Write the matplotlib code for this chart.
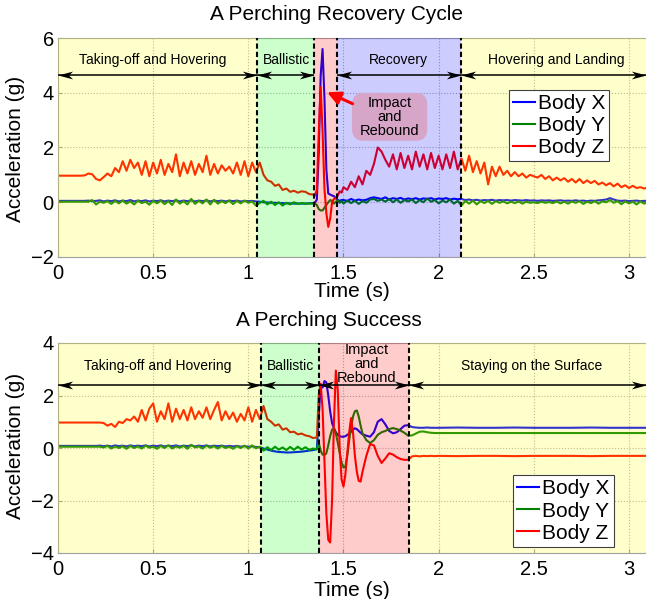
import numpy as np
import matplotlib
matplotlib.use("Agg")
import matplotlib.pyplot as plt
from matplotlib.path import Path
from matplotlib.patches import FancyBboxPatch, FancyArrowPatch

plt.rcParams['font.family'] = ['Liberation Sans', 'DejaVu Sans']

# ------------------------------------------------------------------ data
series_labels = ['Body X', 'Body Y', 'Body Z']
series_colors = ['#0000FF', '#008000', '#FF0000']
xtick_vals = [0, 0.5, 1, 1.5, 2, 2.5, 3]
xtick_labels = ['0', '0.5', '1', '1.5', '2', '2.5', '3']

# ---- top panel: A Perching Recovery Cycle (segments: start, step)
top_seg_start = [0.00, 1.34, 1.50]
top_seg_step = [0.02, 0.01, 0.02]

top_x_a = [0.05, 0.05, 0.05, 0.05, 0.05, 0.05, 0.05, 0.05, 0.06, 0.04,
           0.05, 0.07, 0.03, 0.06, 0.04, 0.07, 0.03, 0.06, 0.04, 0.08,
           0.03, 0.06, 0.04, 0.07, 0.03, 0.06, 0.04, 0.07, 0.03, 0.06,
           0.04, 0.07, 0.03, 0.06, 0.04, 0.07, 0.03, 0.06, 0.04, 0.07,
           0.03, 0.06, 0.04, 0.06, 0.03, 0.06, 0.04, 0.06, 0.03, 0.05,
           0.04, 0.05, 0.03, 0.02, 0.00, -0.01, -0.02, -0.02, -0.03, -0.03,
           -0.04, -0.04, -0.05, -0.05, -0.05, -0.05, -0.04]
top_x_b = [-0.03, -0.02, 0.1, 1.8, 4.6, 5.6, 3.8, 1.2, 0.32, 0.28, 0.25, 0.22, 0.15, 0.08, 0.05, 0.08]
top_x_c = [0.08, 0.05, 0.12, 0.06, 0.10, 0.07, 0.09, 0.15, 0.18, 0.15,
           0.12, 0.18, 0.10, 0.15, 0.12, 0.16, 0.10, 0.14, 0.11, 0.15,
           0.10, 0.14, 0.12, 0.15, 0.10, 0.14, 0.12, 0.15, 0.10, 0.13,
           0.11, 0.12, 0.08, 0.10, 0.07, 0.09, 0.06, 0.08, 0.07, 0.09,
           0.06, 0.08, 0.07, 0.08, 0.06, 0.08, 0.07, 0.06, 0.08, 0.06,
           0.07, 0.05, 0.07, 0.06, 0.07, 0.05, 0.06, 0.07, 0.05, 0.06,
           0.05, 0.07, 0.05, 0.06, 0.04, 0.06, 0.05, 0.07, 0.08, 0.10,
           0.15, 0.10, 0.06, 0.05, 0.06, 0.04, 0.05, 0.06, 0.04, 0.05,
           0.05]

top_y_a = [0.02, 0.02, 0.02, 0.02, 0.02, 0.02, 0.02, 0.02, 0.02, 0.08,
           -0.08, 0.02, -0.02, 0.04, -0.06, 0.05, -0.04, 0.06, -0.05, 0.03,
           -0.08, 0.06, -0.03, 0.02, -0.09, 0.05, -0.04, 0.06, -0.07, 0.04,
           -0.10, 0.10, -0.05, 0.04, -0.08, 0.12, -0.06, 0.05, -0.04, 0.10,
           -0.08, 0.09, -0.05, 0.04, -0.03, 0.06, -0.07, 0.05, -0.04, 0.06,
           -0.02, 0.03, -0.12, -0.02, 0.05, -0.08, 0.02, -0.10, 0.00, -0.12,
           -0.02, -0.08, 0.00, -0.06, -0.03, -0.05, -0.05]
top_y_b = [-0.05, -0.05, -0.1, -0.25, -0.3, -0.3, -0.2, -0.1, 0.0, 0.08, 0.05, -0.05, 0.02, 0.08, -0.02, 0.05]
top_y_c = [-0.05, 0.06, -0.03, 0.05, -0.06, 0.04, -0.02, 0.10, 0.12, 0.05,
           0.10, 0.02, 0.12, 0.00, 0.10, -0.02, 0.08, 0.03, 0.10, -0.03,
           0.08, 0.00, 0.14, 0.02, 0.08, -0.04, 0.06, 0.00, 0.10, -0.05,
           0.05, -0.12, 0.05, -0.05, 0.06, -0.08, 0.04, -0.03, 0.05, -0.06,
           0.04, -0.02, 0.03, -0.04, 0.02, -0.03, 0.03, -0.05, 0.02, -0.02,
           0.00, -0.03, 0.02, -0.02, 0.01, -0.03, 0.03, -0.04, 0.02, -0.05,
           0.03, -0.02, 0.04, -0.06, 0.02, -0.03, 0.04, -0.05, 0.03, 0.00,
           0.08, -0.02, 0.04, -0.07, 0.03, -0.04, 0.02, -0.08, 0.03, -0.05,
           0.02]

top_z_a = [0.97, 0.97, 0.97, 0.97, 0.97, 0.97, 0.97, 0.98, 1.05, 1.02,
           0.85, 0.80, 0.92, 1.05, 0.95, 1.25, 1.10, 1.50, 1.15, 1.55,
           1.25, 1.45, 1.00, 1.50, 0.95, 1.45, 1.05, 1.55, 1.00, 1.40,
           1.10, 1.75, 0.95, 1.45, 1.05, 1.50, 1.00, 1.40, 1.10, 1.70,
           1.00, 1.40, 1.05, 1.35, 1.15, 1.30, 1.05, 1.45, 1.00, 1.50,
           0.95, 1.45, 1.10, 1.45, 1.00, 0.80, 0.75, 0.60, 0.65, 0.45,
           0.50, 0.38, 0.42, 0.35, 0.40, 0.38, 0.30]
top_z_b = [0.28, 0.25, 0.45, 2.5, 4.2, 2.6, 0.5, -0.4, -0.9, -0.6, 0.0, 0.12, 0.15, 0.25, 0.40, 0.35]
top_z_c = [0.55, 0.45, 0.75, 0.55, 0.95, 0.65, 1.15, 1.00, 1.40, 2.00,
           1.85, 1.55, 1.30, 1.75, 1.20, 1.80, 1.25, 1.70, 1.20, 1.85,
           1.30, 1.75, 1.20, 1.80, 1.25, 1.70, 1.20, 1.75, 1.25, 1.85,
           1.20, 1.60, 1.15, 1.70, 1.10, 1.50, 1.05, 1.45, 0.65, 1.30,
           0.95, 1.30, 1.00, 1.15, 0.95, 1.10, 0.95, 1.05, 0.90, 1.00,
           0.95, 0.90, 1.00, 0.85, 0.95, 0.80, 0.90, 0.80, 0.88, 0.75,
           0.85, 0.72, 0.85, 0.70, 0.80, 0.70, 0.78, 0.65, 0.72, 0.62,
           0.70, 0.58, 0.68, 0.55, 0.62, 0.52, 0.60, 0.52, 0.55, 0.50,
           0.55]

top_bounds = [0.0, 1.046, 1.346, 1.466, 2.12, 3.1]
top_region_colors = ['yellow', 'lime', 'red', 'blue', 'yellow']
top_dividers = [1.046, 1.346, 1.466, 2.12]
top_phase_spans = [(0.0, 1.046), (1.046, 1.346), (1.466, 2.12), (2.12, 3.09)]
top_phase_labels = ['Taking-off and Hovering', 'Ballistic', 'Recovery', 'Hovering and Landing']
top_phase_label_x = [0.50, 1.20, 1.79, 2.62]

# ---- bottom panel: A Perching Success
bot_seg_start = [0.00, 1.36, 1.62, 2.00]
bot_seg_step = [0.02, 0.01, 0.02, 0.10]

bot_x_a = [0.08, 0.08, 0.08, 0.08, 0.08, 0.08, 0.08, 0.08, 0.08, 0.08,
           0.08, 0.09, 0.07, 0.09, 0.06, 0.10, 0.07, 0.09, 0.06, 0.10,
           0.07, 0.09, 0.07, 0.10, 0.06, 0.09, 0.07, 0.10, 0.06, 0.09,
           0.07, 0.10, 0.06, 0.09, 0.07, 0.10, 0.06, 0.09, 0.07, 0.10,
           0.06, 0.09, 0.07, 0.09, 0.06, 0.08, 0.06, 0.08, 0.05, 0.07,
           0.05, 0.06, 0.04, 0.03, -0.02, -0.06, -0.10, -0.13, -0.15, -0.16,
           -0.17, -0.17, -0.16, -0.15, -0.14, -0.12, -0.10, -0.08]
bot_x_b = [-0.05, 1.20, 2.40, 2.30, 2.55, 2.50, 2.00, 1.40, 0.95, 0.75,
           0.60, 0.50, 0.45, 0.43, 0.43, 0.45, 0.50, 0.55, 0.62, 0.70,
           0.75, 0.72, 0.65, 0.58, 0.52]
bot_x_c = [0.47, 0.43, 0.60, 1.00, 1.10, 0.90, 0.65, 0.56, 0.60, 0.72,
           0.85, 0.87, 0.80, 0.78, 0.77, 0.77, 0.78, 0.77, 0.77]
bot_x_d = [0.77, 0.78, 0.77, 0.77, 0.78, 0.77, 0.77, 0.77, 0.78, 0.77, 0.77, 0.77]

bot_y_a = [0.05, 0.05, 0.05, 0.05, 0.05, 0.05, 0.05, 0.05, 0.05, 0.05,
           0.05, 0.05, 0.02, 0.08, -0.02, 0.06, 0.00, 0.07, -0.03, 0.08,
           0.00, 0.06, -0.02, 0.09, 0.01, 0.05, -0.03, 0.08, 0.00, 0.10,
           -0.02, 0.06, 0.01, 0.08, -0.03, 0.12, 0.02, 0.06, -0.02, 0.09,
           0.01, 0.07, -0.02, 0.08, 0.00, 0.05, -0.03, 0.07, 0.00, 0.09,
           -0.02, 0.10, -0.01, 0.05, -0.10, 0.03, -0.08, 0.05, -0.06, 0.02,
           -0.08, 0.04, -0.07, 0.05, -0.06, 0.03, -0.07, -0.02]
bot_y_b = [-0.05, 0.20, -0.10, -0.25, -0.27, -0.20, 0.10, 0.45, 0.70, 0.75,
           0.55, 0.20, -0.20, -0.55, -0.75, -0.70, -0.30, 0.30, 0.80, 1.20,
           1.40, 1.43, 1.20, 0.85, 0.55]
bot_y_c = [0.30, 0.19, 0.30, 0.50, 0.60, 0.65, 0.72, 0.76, 0.72, 0.66,
           0.58, 0.47, 0.48, 0.55, 0.62, 0.63, 0.60, 0.58, 0.57]
bot_y_d = [0.57, 0.57, 0.57, 0.57, 0.57, 0.57, 0.57, 0.57, 0.57, 0.57, 0.57, 0.57]

bot_z_a = [0.97, 0.97, 0.97, 0.97, 0.97, 0.97, 0.97, 0.97, 0.97, 0.97,
           0.97, 0.97, 0.95, 0.85, 0.92, 0.80, 1.00, 0.95, 1.10, 1.05,
           1.20, 1.00, 1.45, 1.05, 1.50, 1.70, 1.00, 1.40, 1.10, 1.70,
           1.00, 1.50, 1.10, 1.45, 1.05, 1.55, 1.10, 1.40, 1.15, 1.55,
           1.10, 1.45, 1.75, 1.05, 1.40, 1.10, 1.35, 1.00, 1.30, 1.05,
           1.55, 1.00, 1.45, 1.10, 1.60, 1.10, 1.00, 0.85, 0.90, 0.70,
           0.75, 0.60, 0.62, 0.52, 0.55, 0.48, 0.45, 0.38]
bot_z_b = [0.40, 2.00, 2.45, 1.50, -0.50, -2.50, -3.50, -3.60, -2.00, 1.00,
           2.95, 2.20, 0.00, -1.20, -1.47, -1.00, -0.20, 0.60, 1.14, 0.60,
           -0.30, -0.90, -1.25, -1.28, -0.90]
bot_z_c = [-0.30, 0.15, 0.10, -0.30, -0.57, -0.40, -0.20, -0.25, -0.35, -0.42,
           -0.45, -0.45, -0.32, -0.30, -0.32, -0.30, -0.31, -0.30, -0.31]
bot_z_d = [-0.30, -0.31, -0.30, -0.30, -0.31, -0.30, -0.30, -0.30, -0.31, -0.30, -0.30, -0.30]

bot_bounds = [0.0, 1.067, 1.371, 1.845, 3.1]
bot_region_colors = ['yellow', 'lime', 'red', 'yellow']
bot_dividers = [1.067, 1.371, 1.845]
bot_phase_spans = [(0.0, 1.067), (1.067, 1.371), (1.371, 1.845), (1.845, 3.09)]
bot_phase_labels = ['Taking-off and Hovering', 'Ballistic', 'Impact\nand\nRebound', 'Staying on the Surface']
bot_phase_label_x = [0.526, 1.22, 1.62, 2.49]

# ------------------------------------------------------------------ helpers
def build(starts, steps, segs):
    t = np.concatenate([s + d * np.arange(len(v)) for s, d, v in zip(starts, steps, segs)])
    y = np.concatenate([np.asarray(v, float) for v in segs])
    return t, y

head_left = Path([(0, 0), (1, 0.27), (0.72, 0), (1, -0.27), (0, 0)],
                 [Path.MOVETO, Path.LINETO, Path.LINETO, Path.LINETO, Path.CLOSEPOLY])
head_right = Path([(0, 0), (-1, 0.27), (-0.72, 0), (-1, -0.27), (0, 0)],
                  [Path.MOVETO, Path.LINETO, Path.LINETO, Path.LINETO, Path.CLOSEPOLY])


def phase_arrow(ax, x0, x1, y):
    ax.plot([x0, x1], [y, y], color='k', lw=1.1, zorder=6, solid_capstyle='butt')
    ax.plot([x0], [y], marker=head_left, ms=21, color='k', mew=0, ls='none', zorder=6)
    ax.plot([x1], [y], marker=head_right, ms=21, color='k', mew=0, ls='none', zorder=6)


def style_axes(ax, ylim, yticks):
    ax.set_xlim(0, 3.1)
    ax.set_ylim(*ylim)
    ax.set_xticks(xtick_vals)
    ax.set_xticklabels(xtick_labels)
    ax.set_yticks(yticks)
    ax.tick_params(direction='in', length=3, color='#999999', labelsize=14.5)
    ax.tick_params(axis='x', pad=5)
    ax.tick_params(axis='y', pad=3)
    for s in ax.spines.values():
        s.set_color('#a0a0a0')
        s.set_linewidth(0.8)
    ax.grid(True, linestyle=':', color='#b0b0b0', lw=0.8)
    ax.set_axisbelow(True)


def draw_panel(ax, t, series, bounds, region_colors, dividers, spans, arrow_y):
    lines = []
    for y, c, lab in zip(series, series_colors, series_labels):
        ln, = ax.plot(t, y, color=c, lw=1.5, zorder=2, label=lab)
        lines.append(ln)
    for x0, x1, c in zip(bounds[:-1], bounds[1:], region_colors):
        ax.axvspan(x0, x1, color=c, alpha=0.2, lw=0, zorder=3)
    for xd in dividers:
        ax.axvline(xd, color='k', lw=1.5, ls=(0, (2.5, 1.5)), zorder=4)
    for (x0, x1) in spans:
        phase_arrow(ax, x0, x1, arrow_y)
    return lines


fig = plt.figure(figsize=(6.46, 5.99), dpi=100)
W, H = 646.0, 599.0
ax1 = fig.add_axes([58 / W, (H - 257) / H, 590 / W, 219 / H])
ax2 = fig.add_axes([58 / W, (H - 553) / H, 590 / W, 210 / H])

# ---- top
t_top, tx = build(top_seg_start, top_seg_step, [top_x_a, top_x_b, top_x_c])
_, ty = build(top_seg_start, top_seg_step, [top_y_a, top_y_b, top_y_c])
_, tz = build(top_seg_start, top_seg_step, [top_z_a, top_z_b, top_z_c])
style_axes(ax1, (-2, 6), [-2, 0, 2, 4, 6])
lines1 = draw_panel(ax1, t_top, [tx, ty, tz], top_bounds, top_region_colors, top_dividers,
                    top_phase_spans, 4.65)
for lab, xl in zip(top_phase_labels, top_phase_label_x):
    ax1.text(xl, 5.19, lab, ha='center', va='center', fontsize=10, zorder=7)

# impact annotation (top)
aspect = (8.0 / 219.0) / (3.1 / 590.0)
box = FancyBboxPatch((1.545, 2.245), 0.395, 1.75,
                     boxstyle='round,pad=0,rounding_size=0.06', mutation_aspect=aspect,
                     fc='#D7A5C8', ec='none', zorder=6)
ax1.add_patch(box)
ax1.text(1.742, 3.10, 'Impact\nand\nRebound', ha='center', va='center', fontsize=10.5,
         linespacing=1.0, zorder=7)
arr = FancyArrowPatch((1.548, 3.60), (1.414, 4.02),
                      arrowstyle='-|>,head_length=0.6,head_width=0.3', color='red',
                      lw=2.2, mutation_scale=13, shrinkA=0, shrinkB=0, zorder=8)
ax1.add_patch(arr)
leg1 = ax1.legend(handles=lines1, loc='upper left', bbox_to_anchor=(0.764, 0.763),
                  borderaxespad=0, fontsize=15, frameon=True, fancybox=False,
                  borderpad=0.2, labelspacing=0.15, handlelength=1.05, handletextpad=0.15,
                  framealpha=1, edgecolor='#404040')
leg1.get_frame().set_linewidth(0.8)
leg1.set_zorder(10)

# ---- bottom
t_bot, bx = build(bot_seg_start, bot_seg_step, [bot_x_a, bot_x_b, bot_x_c, bot_x_d])
_, by = build(bot_seg_start, bot_seg_step, [bot_y_a, bot_y_b, bot_y_c, bot_y_d])
_, bz = build(bot_seg_start, bot_seg_step, [bot_z_a, bot_z_b, bot_z_c, bot_z_d])
style_axes(ax2, (-4, 4), [-4, -2, 0, 2, 4])
lines2 = draw_panel(ax2, t_bot, [bx, by, bz], bot_bounds, bot_region_colors, bot_dividers,
                    bot_phase_spans, 2.4)
for lab, xl in zip(bot_phase_labels, bot_phase_label_x):
    if '\n' in lab:
        ax2.text(xl, 3.2, lab, ha='center', va='center', fontsize=10.5, linespacing=1.0, zorder=7)
    else:
        ax2.text(xl, 3.12, lab, ha='center', va='center', fontsize=10, zorder=7)
leg2 = ax2.legend(handles=lines2, loc='lower left', bbox_to_anchor=(0.771, 0.029),
                  borderaxespad=0, fontsize=15, frameon=True, fancybox=False,
                  borderpad=0.2, labelspacing=0.15, handlelength=1.05, handletextpad=0.15,
                  framealpha=1, edgecolor='#404040')
leg2.get_frame().set_linewidth(0.8)
leg2.set_zorder(10)

# ---- titles and axis labels
fig.text(336 / W, 1 - 14 / H, 'A Perching Recovery Cycle', ha='center', va='center', fontsize=15)
fig.text(329 / W, 1 - 320 / H, 'A Perching Success', ha='center', va='center', fontsize=15)
fig.text(352 / W, 1 - 291 / H, 'Time (s)', ha='center', va='center', fontsize=15)
fig.text(352 / W, 1 - 590 / H, 'Time (s)', ha='center', va='center', fontsize=15)
fig.text(16 / W, 1 - 149 / H, 'Acceleration (g)', ha='center', va='center', rotation=90, fontsize=15)
fig.text(16 / W, 1 - 446 / H, 'Acceleration (g)', ha='center', va='center', rotation=90, fontsize=15)

fig.savefig('out.png', dpi=100)
